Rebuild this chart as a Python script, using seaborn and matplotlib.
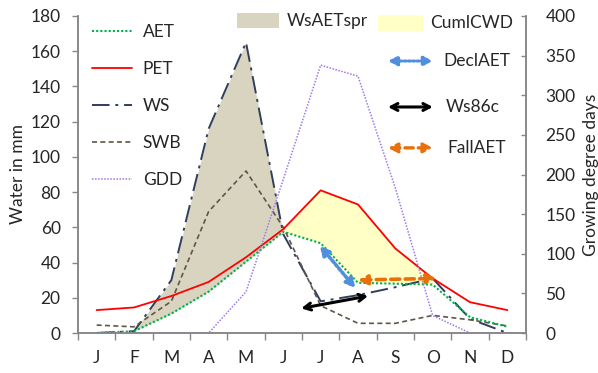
import matplotlib
matplotlib.use("Agg")
import matplotlib.pyplot as plt
from matplotlib.lines import Line2D
from matplotlib.patches import Rectangle
import numpy as np
import pandas as pd
import seaborn as sns

# Monthly water balance (mm) and growing degree days
months = ["J", "F", "M", "A", "M", "J", "J", "A", "S", "O", "N", "D"]
aet = [0, 1, 11, 23.5, 40.5, 57.5, 51, 28.5, 28, 27.5, 9, 3.6]
pet = [13, 14.5, 21, 29, 43, 59, 81, 73, 48, 31, 17.5, 13]
ws = [0, 1, 30, 116, 165, 56, 18, 21.5, 26, 31, 8, 0]
swb = [4.5, 3.5, 18, 69, 92, 60, 15.5, 5.5, 5.5, 10, 7.5, 4]
gdd = [0, 0, 0, 0, 52, 194, 338, 324, 183, 22, 0, 0]

# Annotation arrows: (x0, y0, x1, y1) in month-index / mm units
decl_aet = (5.98, 49.5, 6.93, 25.5)
ws86c = (5.48, 14, 7.27, 21)
fall_aet = (7.0, 30.1, 9.1, 31.0)

sns.set_style("ticks")
plt.rcParams["font.family"] = ["Lato", "DejaVu Sans"]
plt.rcParams["font.size"] = 12.5
plt.rcParams["text.color"] = "#262626"

x = np.arange(len(months))
df = pd.DataFrame({"m": x, "AET": aet, "PET": pet, "WS": ws, "SWB": swb, "GDD": gdd})

fig = plt.figure(figsize=(5.98, 3.73), dpi=100)
ax = fig.add_axes([78 / 598, 40 / 373, 448 / 598, 317 / 373])
ax2 = ax.twinx()

c_aet, c_pet, c_ws, c_swb, c_gdd = "#00b050", "#ff0000", "#2f3f5c", "#5f5646", "#9f78e6"
c_spr, c_cwd = "#d9d4c0", "#ffffc6"
c_decl, c_fall = "#4f8fdc", "#e8700c"

# shaded areas
a = np.array(aet)
w = np.array(ws)
p = np.array(pet)
spring = x <= 5
ax.fill_between(x[spring], w[spring], a[spring], where=w[spring] >= a[spring],
                interpolate=True, color=c_spr, lw=0, zorder=1)
fall = (x >= 5) & (x <= 9)
ax.fill_between(x[fall], p[fall], a[fall], where=p[fall] >= a[fall],
                interpolate=True, color=c_cwd, lw=0, zorder=1)

ws_style = (0, (9, 3, 1.5, 3))
dot_style = (0, (1, 1))
sns.lineplot(data=df, x="m", y="WS", ax=ax, color=c_ws, lw=1.4, zorder=3, linestyle=ws_style)
sns.lineplot(data=df, x="m", y="SWB", ax=ax, color=c_swb, lw=1.2, zorder=3,
             linestyle=(0, (3, 2)))
sns.lineplot(data=df, x="m", y="PET", ax=ax, color=c_pet, lw=1.3, zorder=4)
sns.lineplot(data=df, x="m", y="AET", ax=ax, color=c_aet, lw=1.5, zorder=5, linestyle=dot_style)
sns.lineplot(data=df, x="m", y="GDD", ax=ax2, color=c_gdd, lw=1.1, linestyle=dot_style)

head_tri = "<|-|>,head_length=0.42,head_width=0.22"
head_open = "<->,head_length=0.38,head_width=0.2"

# arrows drawn over everything (on the twin axes, in primary data coordinates)
def arrow(seg, **props):
    x0, y0, x1, y1 = seg
    ax2.annotate("", xy=(x1, y1), xytext=(x0, y0), xycoords=ax.transData,
                 textcoords=ax.transData, arrowprops=props, annotation_clip=False)

arrow(decl_aet, arrowstyle=head_tri, color=c_decl, lw=2.6,
      linestyle=(0, (0.7, 0.7)), shrinkA=0, shrinkB=0)
arrow(ws86c, arrowstyle=head_open, color="black", lw=2.2, shrinkA=0, shrinkB=0)
arrow(fall_aet, arrowstyle=head_tri, color=c_fall, lw=2.6,
      linestyle=(0, (2.5, 1.5)), shrinkA=0, shrinkB=0)

# axes
ax.set_xlim(-0.5, 11.5)
ax.set_ylim(0, 180)
ax2.set_ylim(0, 400)
ax.set_yticks(np.arange(0, 181, 20))
ax2.set_yticks(np.arange(0, 401, 50))
ax.set_xticks(x)
ax.set_xticklabels(months)
ax.set_xticks(np.arange(-0.5, 12, 1), minor=True)
ax.tick_params(axis="x", which="major", length=0, pad=12)
ax.tick_params(axis="x", which="minor", length=5, width=1, color="#868686", direction="out")
ax.tick_params(axis="y", length=4.5, width=1, color="#868686", direction="out", pad=8)
ax2.tick_params(axis="y", length=3.5, width=1, color="#868686", direction="in", pad=14)
ax.set_xlabel("")
ax.set_ylabel("Water in mm", labelpad=3)
ax2.set_ylabel("Growing degree days", labelpad=5)
for a_ in (ax, ax2):
    a_.spines["top"].set_visible(False)
    for s in ("left", "right", "bottom"):
        a_.spines[s].set_color("#868686")
        a_.spines[s].set_linewidth(1.1)

# legend: line series
handles = [
    Line2D([], [], color=c_aet, lw=1.5, linestyle=dot_style),
    Line2D([], [], color=c_pet, lw=1.3),
    Line2D([], [], color=c_ws, lw=1.4, linestyle=ws_style),
    Line2D([], [], color=c_swb, lw=1.2, linestyle=(0, (3, 2))),
    Line2D([], [], color=c_gdd, lw=1.1, linestyle=dot_style),
]
ax2.legend(handles, ["AET", "PET", "WS", "SWB", "GDD"], loc="upper left",
           bbox_to_anchor=(-0.003, 1.023), frameon=False, handlelength=2.3,
           handletextpad=0.6, labelspacing=1.21, fontsize=12.5)

# legend: shaded areas and arrows
tr = ax.transAxes
ax2.add_patch(Rectangle((0.355, 0.962), 0.094, 0.047, transform=tr, color=c_spr,
                        clip_on=False, lw=0))
ax2.text(0.4665, 0.984, "WsAETspr", transform=tr, va="center", ha="left")
ax2.add_patch(Rectangle((0.670, 0.953), 0.100, 0.05, transform=tr, color=c_cwd,
                        clip_on=False, lw=0))
ax2.text(0.786, 0.978, "CumlCWD", transform=tr, va="center", ha="left")

def legend_arrow(y, label, tx, **props):
    ax2.annotate("", xy=(0.792, y), xytext=(0.692, y), xycoords=tr, textcoords=tr,
                 arrowprops=props, annotation_clip=False)
    ax2.text(tx, y, label, transform=tr, va="center", ha="left")

legend_arrow(0.858, "DeclAET", 0.815, arrowstyle=head_tri, color=c_decl, lw=2.2,
             linestyle=(0, (0.7, 0.7)), shrinkA=0, shrinkB=0)
legend_arrow(0.713, "Ws86c", 0.821, arrowstyle=head_open, color="black", lw=2.2,
             shrinkA=0, shrinkB=0)
legend_arrow(0.584, "FallAET", 0.824, arrowstyle=head_tri, color=c_fall, lw=2.4,
             linestyle=(0, (2.5, 1.5)), shrinkA=0, shrinkB=0)

fig.savefig("out.png", dpi=100)
